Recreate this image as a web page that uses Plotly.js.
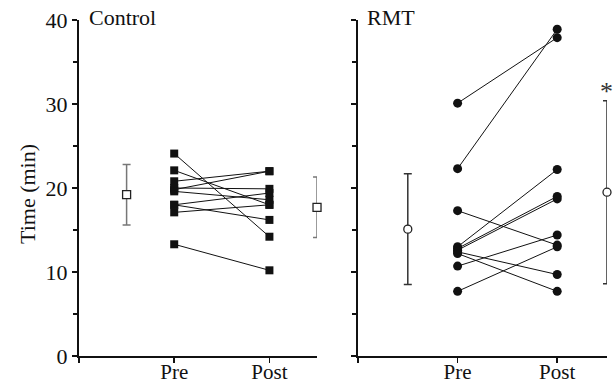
<!DOCTYPE html>
<html>
<head>
<meta charset="utf-8">
<script src="https://cdn.plot.ly/plotly-3.0.1.min.js"></script>
<style>html,body{margin:0;padding:0;background:#fff;}#chart{width:613px;height:387px;}</style>
</head>
<body>
<div id="chart"></div>
<script>
// Data
const xLabels = ['Pre', 'Post'];
const controlPre  = [24.1, 22.1, 20.8, 19.8, 20.0, 19.6, 18.0, 18.0, 17.1, 13.3];
const controlPost = [14.2, 18.0, 22.0, 22.0, 19.9, 18.6, 19.4, 16.2, 18.0, 10.2];
const rmtPre  = [30.1, 22.3, 17.3, 13.0, 12.8, 12.6, 12.4, 12.2, 10.7, 7.7];
const rmtPost = [37.9, 38.9, 13.2, 22.2, 19.0, 18.7, 9.7, 7.7, 14.4, 13.0];
const controlMean = [19.2, 17.7];
const controlSD   = [3.6, 3.6];
const rmtMean = [15.1, 19.5];
const rmtSD   = [6.6, 10.9];

const xPre = 1, xPost = 2, xMeanPre = 0.5, xMeanPost = 2.5;
const serif = 'Liberation Serif';

const traces = [];
function addSubjects(pre, post, xa, ya, symbol, size) {
  for (let i = 0; i < pre.length; i++) {
    traces.push({
      x: [xPre, xPost], y: [pre[i], post[i]], xaxis: xa, yaxis: ya,
      type: 'scatter', mode: 'lines+markers', showlegend: false, cliponaxis: false,
      line: {color: '#111', width: 1},
      marker: {symbol: symbol, size: size, color: '#111', line: {width: 0}}
    });
  }
}
addSubjects(controlPre, controlPost, 'x', 'y', 'square', 8);
addSubjects(rmtPre, rmtPost, 'x2', 'y2', 'circle', 9);

function addMeans(mean, sd, xa, ya, symbol, ecol) {
  traces.push({
    x: [xMeanPre, xMeanPost], y: mean, xaxis: xa, yaxis: ya,
    type: 'scatter', mode: 'markers', showlegend: false, cliponaxis: false,
    error_y: {type: 'data', array: sd, visible: true, color: ecol, thickness: 1.5, width: 4},
    marker: {symbol: symbol, size: 8, color: '#fff', line: {color: '#222', width: 1.3}}
  });
}
addMeans(controlMean, controlSD, 'x', 'y', 'square', '#777');
addMeans(rmtMean, rmtSD, 'x2', 'y2', 'circle', '#333');

const xCommon = {
  range: [0, 2.5], tickvals: [0, xPre, xPost], ticktext: ['', xLabels[0], xLabels[1]],
  ticks: 'outside', ticklen: 5, tickwidth: 1.5, tickcolor: '#111',
  showline: true, linecolor: '#111', linewidth: 2, showgrid: false, zeroline: false,
  ticklabelstandoff: -9,
  tickfont: {family: serif, size: 21, color: '#111'}, fixedrange: true
};
const yCommon = {
  range: [0, 40], tickvals: [0, 10, 20, 30, 40],
  ticks: 'outside', ticklen: 5, tickwidth: 1.5, tickcolor: '#111',
  minor: {tickvals: [5, 15, 25, 35], ticks: 'outside', ticklen: 4, tickwidth: 1.5, tickcolor: '#111'},
  showline: true, linecolor: '#111', linewidth: 2, showgrid: false, zeroline: false,
  tickfont: {family: serif, size: 22, color: '#111'}, fixedrange: true
};

const layout = {
  width: 613, height: 387,
  margin: {l: 79, r: 6, t: 20, b: 31},
  paper_bgcolor: '#fff', plot_bgcolor: '#fff',
  font: {family: serif},
  xaxis: Object.assign({}, xCommon, {domain: [0, 0.4508], anchor: 'y'}),
  xaxis2: Object.assign({}, xCommon, {domain: [0.5284, 1], anchor: 'y2'}),
  yaxis: Object.assign({}, yCommon, {anchor: 'x', domain: [0, 1]}),
  yaxis2: Object.assign({}, yCommon, {anchor: 'x2', domain: [0, 1], showticklabels: false}),
  annotations: [
    {text: 'Time (min)', xref: 'paper', yref: 'paper', x: 0, y: 0.5, xshift: -52, yshift: -6,
     textangle: -90, showarrow: false, xanchor: 'center', yanchor: 'middle',
     font: {family: serif, size: 22, color: '#111'}},
    {text: 'Control', xref: 'x domain', yref: 'paper', x: 0, y: 1, xshift: 8, yshift: 3,
     xanchor: 'left', yanchor: 'middle', showarrow: false,
     font: {family: serif, size: 22, color: '#111'}},
    {text: 'RMT', xref: 'x2 domain', yref: 'paper', x: 0, y: 1, xshift: 7, yshift: 3,
     xanchor: 'left', yanchor: 'middle', showarrow: false,
     font: {family: serif, size: 22, color: '#111'}},
    {text: '*', xref: 'x2', yref: 'y2', x: xMeanPost, y: 31.5,
     xanchor: 'center', yanchor: 'middle', showarrow: false,
     font: {family: serif, size: 26, color: '#333'}}
  ]
};

Plotly.newPlot('chart', traces, layout, {displayModeBar: false, staticPlot: true});
</script>
</body>
</html>
